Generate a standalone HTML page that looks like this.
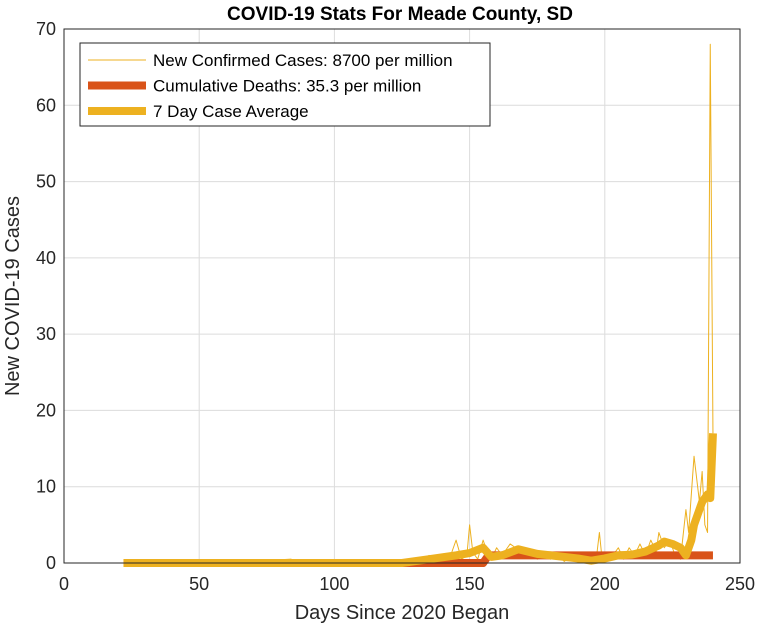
<!DOCTYPE html>
<html><head><meta charset="utf-8"><style>
body{margin:0;background:#fff;font-family:"Liberation Sans",Arial,sans-serif}
</style></head><body>
<svg id="c" width="761" height="630" xmlns="http://www.w3.org/2000/svg"></svg>
<script>
const caseDays=[22,40,60,84,85,90,100,110,120,125,128,130,133,135,138,140,143,145,147,149,150,151,152,153,155,157,158,160,162,165,167,170,173,175,178,180,183,185,188,190,193,195,197,198,199,200,202,205,207,209,211,213,215,217,219,220,222,224,226,228,230,231,232,233,234,235,236,237,238,239,240];
const cases=[0,0,0,0.5,0,0,0,0,0,0.3,0,0.5,0.3,1,0.2,0.5,1,3,0.5,1,5,2,1,0.5,3,1,0.5,2,1,2.5,2,1,1.5,0.5,1,0.5,1,0.2,1,0.3,0.5,0,1,4,0.5,1,0.5,2,0.5,2,1,2.5,1,3,1.5,4,2,3,1,0.5,7,4,9,14,11,8,12,5,4,68,17];
const avgDays=[22,60,100,125,135,145,150,155,158,162,168,175,180,190,195,200,205,210,215,220,222,225,228,230,232,233,235,236,238,239,240];
const avgVals=[0,0,0,0,0.5,1,1.3,2,0.8,1,1.8,1.2,1,0.6,0.3,0.6,1,1.1,1.5,2.3,2.8,2.5,2,1,3,5,7,8,9,8.5,17];
const deathDays=[22,155,157,240];
const deaths=[0,0,1,1];
const xTicks=[0,50,100,150,200,250];
const yTicks=[0,10,20,30,40,50,60,70];
const svg=document.getElementById('c');const NS='http://www.w3.org/2000/svg';
const L=64,R=740,T=29,B=563;
const xs=d=>L+(d/250)*(R-L), ys=v=>B-(v/70)*(B-T);
function mk(t,a,p){const e=document.createElementNS(NS,t);for(const k in a)e.setAttribute(k,a[k]);(p||svg).appendChild(e);return e;}
mk('rect',{x:L,y:T,width:R-L,height:B-T,fill:'#fff'});
xTicks.forEach(v=>{const g=mk('line',{x1:xs(v),x2:xs(v),y1:T,y2:B,stroke:'#dcdcdc'});

const t=mk('text',{x:xs(v),y:B+27,'text-anchor':'middle','font-size':18,fill:'#262626'});t.textContent=v;
});
yTicks.forEach(v=>{const g=mk('line',{x1:L,x2:R,y1:ys(v),y2:ys(v),stroke:'#dcdcdc'});

const t=mk('text',{x:L-8,y:ys(v)+6,'text-anchor':'end','font-size':18,fill:'#262626'});t.textContent=v;
});
function line(dx,dy,col,w,name){const p=mk('polyline',{points:dx.map((d,i)=>xs(d)+','+ys(dy[i])).join(' '),fill:'none',stroke:col,'stroke-width':w,'stroke-linejoin':'round'});
}
line(caseDays,cases,'#EDB120',1,'new-cases-line');
line(deathDays,deaths,'#D95319',8,'deaths-line');
line(avgDays,avgVals,'#EDB120',8,'avg-line');
const ax=mk('path',{d:`M${L},${T}V${B}H${R}V${T}Z`,fill:'none',stroke:'#262626','stroke-width':1});

const ti=mk('text',{x:400,y:20,'text-anchor':'middle','font-size':19,'font-weight':'bold',fill:'#000'});ti.textContent='COVID-19 Stats For Meade County, SD';

const xl=mk('text',{x:402,y:619,'text-anchor':'middle','font-size':20,fill:'#262626'});xl.textContent='Days Since 2020 Began';

const yl=mk('text',{x:0,y:0,transform:'translate(19,296) rotate(-90)','text-anchor':'middle','font-size':20,fill:'#262626'});yl.textContent='New COVID-19 Cases';

const lg=mk('rect',{x:80,y:43,width:410,height:83,fill:'#fff',stroke:'#262626'});

[['New Confirmed Cases: 8700 per million','#EDB120',1],['Cumulative Deaths: 35.3 per million','#D95319',8],['7 Day Case Average','#EDB120',8]].forEach((e,i)=>{
const y=60+i*25.5;const l=mk('line',{x1:88,x2:146,y1:y,y2:y,stroke:e[1],'stroke-width':e[2]});

const t=mk('text',{x:153,y:y+6,'font-size':17,fill:'#000'});t.textContent=e[0];
});
</script></body></html>
